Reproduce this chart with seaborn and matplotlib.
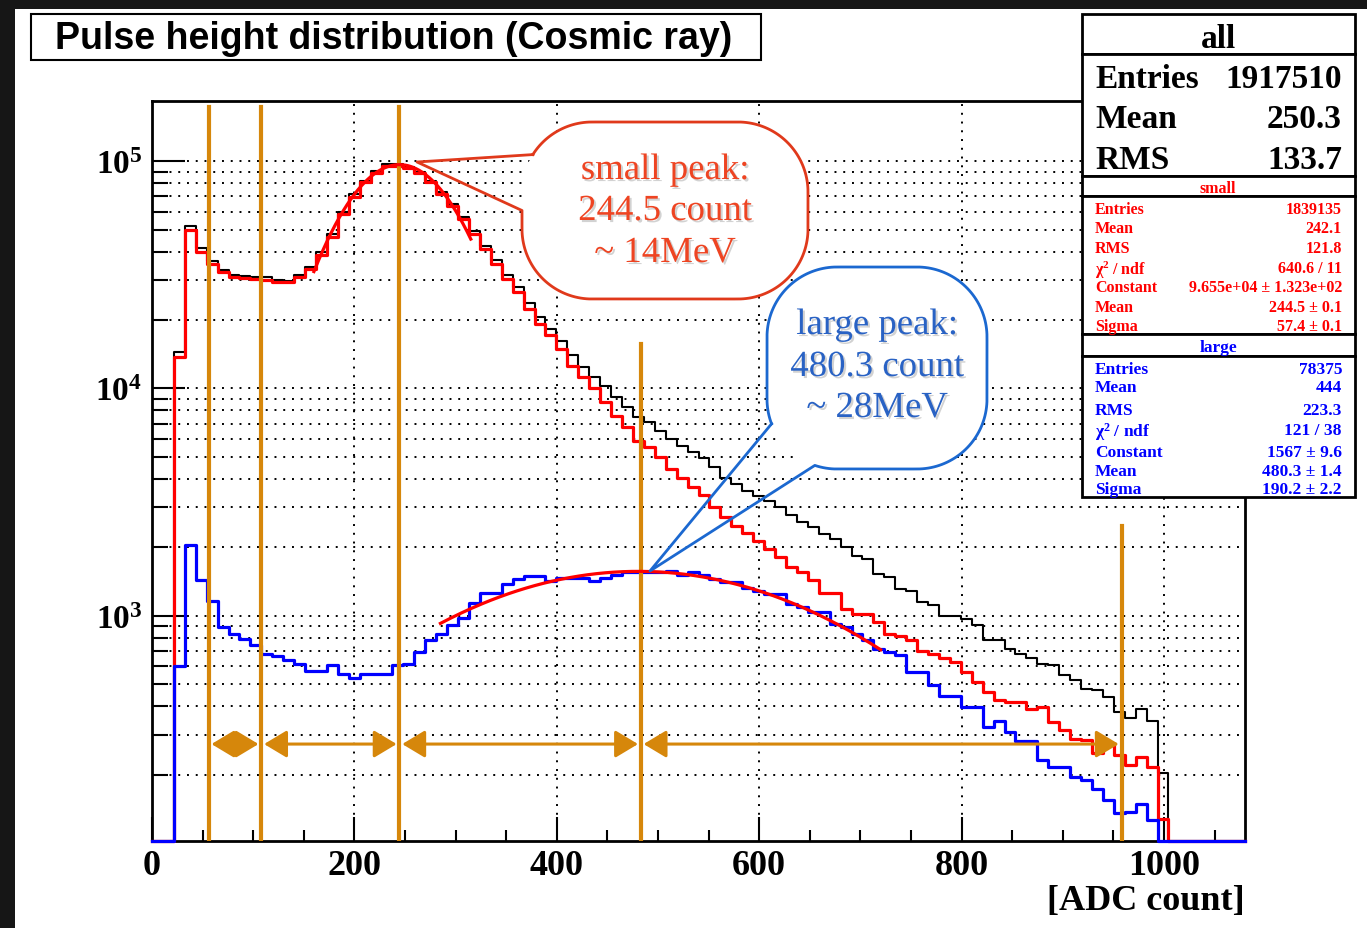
import numpy as np
import matplotlib
matplotlib.use("Agg")
import matplotlib.pyplot as plt
import matplotlib.patheffects as pe
from matplotlib.patches import Rectangle, Polygon
from matplotlib.ticker import MultipleLocator, LogLocator, FuncFormatter, NullFormatter
import seaborn as sns

# ---- values ----
# 100 bins of 10.8 ADC counts, 0 .. 1080
n_bins = 100
x_max = 1080

all_counts = [
    0, 0, 14400, 51800, 41400, 36200, 33300, 31600, 31300, 31000,
    30800, 30100, 29800, 31600, 34100, 39700, 47800, 59900, 71600, 82000,
    90400, 97000, 97000, 94400, 89800, 82000, 73000, 64700, 56600, 49400,
    42300, 36600, 31700, 27900, 23800, 20700, 18300, 16200, 14000, 12400,
    11200, 10300, 9180, 8290, 7480, 7100, 6530, 6000, 5600, 5240,
    4950, 4490, 4050, 3780, 3530, 3360, 3200, 3020, 2770, 2590,
    2450, 2290, 2180, 2000, 1840, 1780, 1530, 1480, 1310, 1280,
    1150, 1110, 1000, 1000, 970, 906, 779, 779, 716, 681,
    652, 615, 605, 547, 520, 478, 470, 439, 377, 355,
    390, 343, 204, 0, 0, 0, 0, 0, 0, 0,
]

small_counts = [
    0, 0, 13800, 49800, 39700, 35300, 32400, 30900, 30600, 30300,
    30100, 29400, 29300, 30900, 33500, 38700, 46600, 58500, 69400, 80600,
    89000, 95400, 95400, 92900, 88500, 81000, 72000, 63600, 55400, 47800,
    41000, 35300, 30300, 26500, 22300, 19200, 17100, 14900, 12600, 11200,
    10000, 8740, 7600, 6750, 5900, 5500, 4970, 4410, 4050, 3670,
    3400, 3000, 2710, 2490, 2300, 2140, 1970, 1810, 1640, 1560,
    1430, 1260, 1260, 1070, 1020, 1020, 938, 834, 814, 779,
    697, 681, 652, 626, 566, 511, 461, 424, 417, 417,
    390, 397, 341, 313, 288, 284, 250, 269, 243, 220,
    240, 216, 127, 0, 0, 0, 0, 0, 0, 0,
]

large_counts = [
    0, 0, 601, 2056, 1440, 1156, 892, 834, 787, 746,
    681, 662, 636, 615, 569, 569, 605, 556, 534, 556,
    556, 556, 605, 615, 692, 784, 834, 913, 977, 1140,
    1258, 1258, 1383, 1455, 1494, 1494, 1415, 1465, 1465, 1465,
    1415, 1465, 1503, 1556, 1556, 1556, 1556, 1580, 1515, 1560,
    1515, 1455, 1410, 1410, 1322, 1279, 1250, 1250, 1129, 1092,
    1038, 1038, 922, 892, 830, 779, 710, 690, 674, 566,
    566, 494, 442, 442, 397, 397, 324, 343, 308, 280,
    280, 231, 216, 216, 195, 189, 173, 154, 135, 137,
    149, 126, 77, 0, 0, 0, 0, 0, 0, 0,
]

# gaussian fit results from the stat boxes (constant, mean, sigma) and fit ranges
small_fit = (9.655e4, 244.5, 57.4)
small_fit_range = (160, 315)
large_fit = (1567, 480.3, 190.2)
large_fit_range = (285, 720)

# orange marker lines [ADC count]
marker_x = [56, 108, 244.5, 483, 958]

title = "Pulse height distribution (Cosmic ray)"
stats_all = [("Entries", "1917510"), ("Mean", "250.3"), ("RMS", "133.7")]
stats_labels = ["Entries", "Mean", "RMS", r"$\mathbf{\chi^{2}}$ / ndf", "Constant", "Mean", "Sigma"]
stats_small = ["1839135", "242.1", "121.8", "640.6 / 11", "9.655e+04 ± 1.323e+02", "244.5 ± 0.1", "57.4 ± 0.1"]
stats_large = ["78375", "444", "223.3", "121 / 38", "1567 ± 9.6", "480.3 ± 1.4", "190.2 ± 2.2"]
small_note = ["small peak:", "244.5 count", "~ 14MeV"]
large_note = ["large peak:", "480.3 count", "~ 28MeV"]

# ---- style ----
plt.rcParams.update({
    "font.family": ["Liberation Serif", "DejaVu Serif"],
    "font.weight": "bold",
    "axes.labelweight": "bold",
    "mathtext.fontset": "custom",
    "mathtext.rm": "Liberation Serif",
    "mathtext.it": "Liberation Serif:italic",
    "mathtext.bf": "Liberation Serif:bold",
    "axes.linewidth": 2.0,
})

W, H = 1367, 929
ORANGE = "#d6870b"
YMIN, YMAX = 102, 1.84e5

fig = plt.figure(figsize=(W / 100, H / 100), dpi=100)
fig.patch.set_facecolor("#161616")

# white slide area (dark strip left / top like the screenshot)
bg = fig.add_axes([0, 0, 1, 1], zorder=-10)
bg.set_xlim(0, W)
bg.set_ylim(H, 0)
bg.axis("off")
bg.add_patch(Rectangle((15, 10), W - 15, H - 10, facecolor="white", edgecolor="none"))

ax = fig.add_axes([152 / W, 1 - 842 / H, (1245 - 152) / W, (842 - 102) / H])
ax.set_facecolor("white")

edges = np.linspace(0, x_max, n_bins + 1)
centers = (edges[:-1] + edges[1:]) / 2

# empty bins are drawn along the bottom of the frame, as ROOT does
for counts, color, lw in [(all_counts, "black", 1.5), (small_counts, "red", 2.3), (large_counts, "blue", 2.3)]:
    sns.histplot(x=centers, weights=np.maximum(counts, YMIN), bins=list(edges), element="step",
                 fill=False, color=color, linewidth=lw, ax=ax, zorder=3, clip_on=False)

for (c, m, s), (lo, hi) in [(small_fit, small_fit_range), (large_fit, large_fit_range)]:
    xf = np.linspace(lo, hi, 300)
    sns.lineplot(x=xf, y=c * np.exp(-0.5 * ((xf - m) / s) ** 2), color="red",
                 linewidth=2.3, ax=ax, zorder=5)

ax.set_yscale("log")
ax.set_xlim(0, x_max)
ax.set_ylim(YMIN, YMAX)
ax.set_ylabel("")
ax.set_xlabel("[ADC count]", loc="right", fontsize=26, fontweight="bold", labelpad=1)

ax.xaxis.set_major_locator(MultipleLocator(200))
ax.xaxis.set_minor_locator(MultipleLocator(50))
ax.yaxis.set_major_locator(LogLocator(base=10, numticks=10))
ax.yaxis.set_minor_locator(LogLocator(base=10, subs=np.arange(2, 10), numticks=20))
ax.yaxis.set_major_formatter(FuncFormatter(lambda v, p: r"$\mathbf{10^{%d}}$" % round(np.log10(v))))
ax.yaxis.set_minor_formatter(NullFormatter())

dots = (0, (1, 3.5))
ax.set_axisbelow(True)
ax.grid(True, axis="x", which="major", color="black", linestyle=dots, linewidth=1.4)
ax.grid(True, axis="y", which="both", color="black", linestyle=dots, linewidth=1.4)

ax.tick_params(axis="x", which="major", direction="in", length=17, width=1.5, labelsize=26, pad=6, top=False)
ax.tick_params(axis="x", which="minor", direction="in", length=8, width=1.5, top=False)
ax.tick_params(axis="y", which="major", direction="in", length=24, width=1.5, labelsize=24, pad=7, right=False)
ax.tick_params(axis="y", which="minor", direction="in", length=11.5, width=1.5, right=False)

# orange markers and range arrows
marker_top = [0.992, 0.992, 0.992, 0.672, 0.426]
for x, top in zip(marker_x, marker_top):
    ax.axvline(x, ymin=0, ymax=top, color=ORANGE, lw=3, zorder=4)
for a, b in zip(marker_x[:-1], marker_x[1:]):
    ax.annotate("", xy=(b, 0.131), xytext=(a, 0.131), xycoords=ax.get_xaxis_transform(),
                arrowprops=dict(arrowstyle="<|-|>,head_length=1.0,head_width=0.6", color=ORANGE,
                                lw=2.2, shrinkA=2, shrinkB=2, mutation_scale=14), zorder=4)

# ---- overlay in pixel coordinates: title, stat boxes, callouts ----
ov = fig.add_axes([0, 0, 1, 1], zorder=10)
ov.set_xlim(0, W)
ov.set_ylim(H, 0)
ov.axis("off")

ov.add_patch(Rectangle((31, 15), 730, 46, facecolor="white", edgecolor="black", lw=1.5))
ov.text(394, 38.5, title, ha="center", va="center", fontsize=27, fontweight="bold",
        family=["Liberation Sans", "DejaVu Sans"])

SX0, SX1 = 1082, 1355
for y0, y1 in [(15, 55), (55, 177), (177, 197), (197, 335), (335, 357), (357, 498)]:
    ov.add_patch(Rectangle((SX0, y0), SX1 - SX0, y1 - y0, facecolor="white", edgecolor="black", lw=2))
ov.text(1218, 36, "all", ha="center", va="center_baseline", fontsize=24)
for (lab, val), y in zip(stats_all, [76, 116, 157]):
    ov.text(1095, y, lab, ha="left", va="center_baseline", fontsize=24)
    ov.text(1342, y, val, ha="right", va="center_baseline", fontsize=24)

ov.text(1218, 187, "small", color="red", ha="center", va="center_baseline", fontsize=11.5)
for lab, val, y in zip(stats_labels, stats_small, [208, 227, 247, 267, 286, 306, 325]):
    ov.text(1095, y, lab, color="red", ha="left", va="center_baseline", fontsize=11.5)
    ov.text(1342, y, val, color="red", ha="right", va="center_baseline", fontsize=11.5)

ov.text(1218, 346, "large", color="blue", ha="center", va="center_baseline", fontsize=12.5)
for lab, val, y in zip(stats_labels, stats_large, [368, 386, 409, 429, 451, 470, 488]):
    ov.text(1095, y, lab, color="blue", ha="left", va="center_baseline", fontsize=12.5)
    ov.text(1342, y, val, color="blue", ha="right", va="center_baseline", fontsize=12.5)


def rounded_outline(x0, y0, x1, y1, r, n=40):
    arcs = []
    for cx, cy, a0 in [(x1 - r, y0 + r, -90), (x1 - r, y1 - r, 0), (x0 + r, y1 - r, 90), (x0 + r, y0 + r, 180)]:
        t = np.radians(np.linspace(a0, a0 + 90, n))
        arcs.append(np.column_stack([cx + r * np.cos(t), cy + r * np.sin(t)]))
    pts = np.vstack(arcs + [arcs[0][:1]])
    out = []
    for p, q in zip(pts[:-1], pts[1:]):
        k = max(1, int(np.hypot(*(q - p)) // 2))
        out.append(p + (q - p) * np.linspace(0, 1, k, endpoint=False)[:, None])
    return np.vstack(out)


def bubble(box, r, base_a, base_b, tip, edge, color, lines, baselines):
    x0, y0, x1, y1 = box
    P = rounded_outline(x0, y0, x1, y1, r)
    ov.add_patch(Polygon(P, closed=True, facecolor="white", edgecolor="none"))
    ia = np.argmin(np.hypot(*(P - np.array(base_a)).T))
    ib = np.argmin(np.hypot(*(P - np.array(base_b)).T))
    i, j = sorted((ia, ib))
    if j - i < len(P) / 2:
        path = np.vstack([P[j:], P[:i + 1], [tip], P[j:j + 1]])
    else:
        path = np.vstack([P[i:j + 1], [tip], P[i:i + 1]])
    ov.plot(path[:, 0], path[:, 1], color=edge, lw=2)
    for txt, yb in zip(lines, baselines):
        ov.text((x0 + x1) / 2, yb, txt, ha="center", va="baseline", fontsize=26.5,
                fontweight="normal", color=color,
                path_effects=[pe.withSimplePatchShadow(offset=(1.5, -1.5), shadow_rgbFace="0.5", alpha=0.35)])


bubble((522, 123, 808, 300), 70, (535, 157), (522, 212), (417, 163),
       "#e0391b", "#ee4422", small_note, [180, 221, 263])
bubble((767, 268, 987, 470), 70, (777, 422), (815, 462), (650, 572),
       "#1b68d0", "#2962c4", large_note, [335, 377, 418])

fig.savefig("out.png", dpi=100, facecolor=fig.get_facecolor())
